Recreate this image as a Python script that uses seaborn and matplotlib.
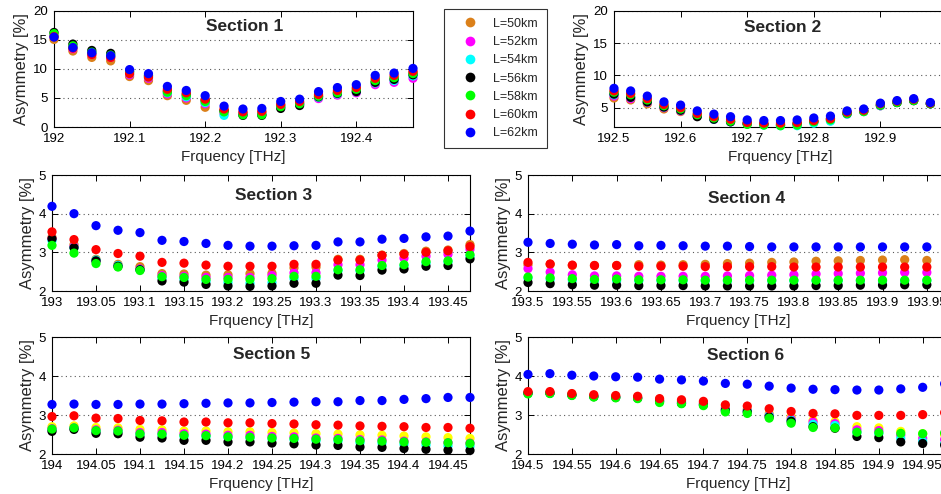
import numpy as np
import pandas as pd
import matplotlib
matplotlib.use("Agg")
import matplotlib.pyplot as plt
from matplotlib.lines import Line2D
import seaborn as sns

# series names and colours (sections 5-6 draw L=50km in yellow)
labels = ["L=50km", "L=52km", "L=54km", "L=56km", "L=58km", "L=60km", "L=62km"]
colors = ["#DB801A", "#FF00FF", "#00FFFF", "#000000", "#00FF00", "#FF0000", "#0000FF"]
colors_late = ["#FFFF00", "#FF00FF", "#00FFFF", "#000000", "#00FF00", "#FF0000", "#0000FF"]

# section start frequencies [THz], 20 channels each, 25 GHz apart
sec_start = [192.0, 192.5, 193.0, 193.5, 194.0, 194.5]
n_ch = 20
step = 0.025

# asymmetry [%], one row per L (50, 52, 54, 56, 58, 60, 62 km)
sec1 = [
    [15.1, 13.1, 12.0, 11.4, 8.7, 8.0, 5.4, 4.6, 3.4, 2.8, 2.4, 2.5, 3.8, 4.2, 5.4, 6.0, 6.3, 7.8, 8.4, 9.4],
    [15.6, 13.5, 12.5, 12.0, 9.0, 8.4, 5.7, 5.0, 4.0, 2.3, 2.3, 2.3, 3.5, 4.0, 4.9, 5.5, 5.9, 7.3, 7.7, 8.4],
    [15.7, 13.7, 12.7, 12.2, 9.2, 8.6, 5.9, 5.2, 4.2, 2.0, 2.2, 2.2, 3.6, 4.0, 5.1, 5.7, 6.1, 7.6, 8.0, 8.8],
    [16.3, 14.3, 13.2, 12.7, 9.6, 8.9, 6.2, 5.6, 4.6, 2.8, 2.0, 2.0, 3.2, 3.7, 5.2, 5.8, 6.1, 7.7, 8.2, 9.0],
    [16.1, 14.0, 12.9, 12.4, 9.5, 8.8, 6.0, 5.4, 4.4, 2.6, 2.1, 2.1, 3.5, 4.0, 5.3, 5.9, 6.5, 8.0, 8.5, 9.2],
    [15.6, 13.6, 12.5, 12.0, 9.2, 8.6, 6.5, 5.9, 4.8, 3.1, 2.6, 2.7, 3.9, 4.4, 5.6, 6.3, 6.8, 8.4, 8.9, 9.6],
    [15.5, 13.7, 12.8, 12.3, 9.9, 9.2, 7.0, 6.3, 5.4, 3.6, 3.1, 3.2, 4.4, 4.8, 6.1, 6.8, 7.3, 8.9, 9.3, 10.1],
]
sec2 = [
    [6.5, 6.2, 5.6, 4.8, 4.4, 3.7, 3.3, 2.9, 2.6, 2.5, 2.4, 2.5, 2.8, 3.1, 4.1, 4.4, 5.3, 5.8, 6.1, 5.6],
    [6.8, 6.4, 5.8, 5.0, 4.5, 3.7, 3.2, 2.8, 2.5, 2.4, 2.3, 2.3, 2.7, 3.0, 4.0, 4.4, 5.3, 5.8, 6.1, 5.6],
    [7.0, 6.6, 5.9, 5.1, 4.6, 3.7, 3.2, 2.8, 2.5, 2.3, 2.2, 2.2, 2.6, 2.9, 4.0, 4.4, 5.3, 5.8, 6.1, 5.6],
    [7.1, 6.6, 5.9, 5.1, 4.6, 3.6, 3.2, 2.8, 2.5, 2.4, 2.3, 2.5, 2.9, 3.3, 4.1, 4.5, 5.4, 5.8, 6.1, 5.6],
    [7.4, 7.0, 6.2, 5.3, 4.8, 3.9, 3.4, 2.9, 2.4, 2.3, 2.2, 2.3, 2.8, 3.1, 4.1, 4.4, 5.4, 5.8, 6.1, 5.6],
    [7.6, 7.2, 6.4, 5.5, 5.0, 4.1, 3.6, 3.2, 2.7, 2.6, 2.6, 2.7, 3.0, 3.3, 4.3, 4.6, 5.6, 6.0, 6.3, 5.7],
    [8.0, 7.6, 6.8, 5.9, 5.4, 4.5, 4.0, 3.6, 3.1, 3.0, 3.0, 3.1, 3.4, 3.7, 4.5, 4.8, 5.7, 6.1, 6.4, 5.8],
]
sec3 = [
    [3.39, 3.20, 2.82, 2.69, 2.63, 2.45, 2.44, 2.41, 2.42, 2.45, 2.46, 2.60, 2.62, 2.82, 2.82, 2.93, 2.97, 3.03, 3.06, 3.20],
    [3.35, 3.15, 2.78, 2.65, 2.57, 2.40, 2.38, 2.35, 2.35, 2.35, 2.40, 2.47, 2.47, 2.68, 2.68, 2.80, 2.85, 2.90, 2.95, 3.08],
    [3.30, 3.12, 2.80, 2.66, 2.55, 2.33, 2.30, 2.25, 2.22, 2.20, 2.22, 2.32, 2.32, 2.52, 2.52, 2.63, 2.65, 2.72, 2.75, 2.90],
    [3.35, 3.12, 2.78, 2.64, 2.55, 2.26, 2.23, 2.17, 2.13, 2.12, 2.13, 2.20, 2.20, 2.41, 2.40, 2.54, 2.57, 2.64, 2.66, 2.83],
    [3.18, 2.98, 2.71, 2.62, 2.53, 2.37, 2.35, 2.30, 2.30, 2.30, 2.32, 2.38, 2.38, 2.55, 2.55, 2.66, 2.68, 2.76, 2.78, 2.94],
    [3.53, 3.33, 3.07, 2.97, 2.90, 2.74, 2.72, 2.67, 2.64, 2.64, 2.64, 2.69, 2.69, 2.80, 2.80, 2.92, 2.95, 3.00, 3.04, 3.15],
    [4.19, 4.00, 3.69, 3.57, 3.51, 3.31, 3.28, 3.23, 3.18, 3.16, 3.16, 3.17, 3.18, 3.27, 3.27, 3.34, 3.36, 3.40, 3.42, 3.55],
]
sec4 = [
    [2.68, 2.69, 2.66, 2.66, 2.66, 2.68, 2.67, 2.68, 2.69, 2.71, 2.72, 2.74, 2.75, 2.77, 2.78, 2.79, 2.80, 2.81, 2.79, 2.80],
    [2.58, 2.49, 2.42, 2.39, 2.39, 2.38, 2.38, 2.38, 2.38, 2.39, 2.40, 2.41, 2.42, 2.44, 2.45, 2.46, 2.47, 2.48, 2.48, 2.48],
    [2.33, 2.30, 2.28, 2.27, 2.27, 2.26, 2.26, 2.26, 2.26, 2.26, 2.26, 2.26, 2.26, 2.26, 2.26, 2.26, 2.26, 2.26, 2.26, 2.26],
    [2.22, 2.19, 2.16, 2.15, 2.15, 2.14, 2.14, 2.14, 2.13, 2.13, 2.13, 2.13, 2.13, 2.14, 2.14, 2.15, 2.15, 2.16, 2.16, 2.16],
    [2.36, 2.34, 2.32, 2.30, 2.31, 2.29, 2.29, 2.29, 2.28, 2.28, 2.28, 2.28, 2.28, 2.28, 2.28, 2.28, 2.28, 2.28, 2.28, 2.28],
    [2.74, 2.70, 2.67, 2.66, 2.66, 2.64, 2.64, 2.64, 2.63, 2.63, 2.63, 2.63, 2.62, 2.62, 2.62, 2.62, 2.62, 2.62, 2.62, 2.62],
    [3.26, 3.23, 3.21, 3.19, 3.20, 3.17, 3.18, 3.17, 3.16, 3.16, 3.15, 3.14, 3.14, 3.14, 3.14, 3.14, 3.14, 3.14, 3.14, 3.14],
]
sec5 = [
    [2.70, 2.72, 2.68, 2.67, 2.63, 2.62, 2.59, 2.59, 2.57, 2.57, 2.55, 2.54, 2.52, 2.51, 2.49, 2.48, 2.46, 2.44, 2.42, 2.40],
    [2.65, 2.67, 2.62, 2.61, 2.55, 2.55, 2.52, 2.51, 2.48, 2.48, 2.45, 2.44, 2.41, 2.40, 2.37, 2.36, 2.33, 2.31, 2.29, 2.28],
    [2.62, 2.66, 2.58, 2.57, 2.50, 2.49, 2.45, 2.45, 2.42, 2.41, 2.38, 2.37, 2.34, 2.33, 2.29, 2.28, 2.25, 2.23, 2.21, 2.20],
    [2.58, 2.63, 2.53, 2.52, 2.43, 2.41, 2.35, 2.35, 2.31, 2.31, 2.28, 2.26, 2.23, 2.22, 2.18, 2.17, 2.14, 2.12, 2.10, 2.09],
    [2.64, 2.67, 2.60, 2.59, 2.52, 2.51, 2.48, 2.47, 2.44, 2.43, 2.41, 2.40, 2.38, 2.37, 2.34, 2.33, 2.31, 2.30, 2.29, 2.27],
    [2.96, 2.98, 2.92, 2.91, 2.86, 2.85, 2.82, 2.82, 2.80, 2.80, 2.78, 2.77, 2.75, 2.74, 2.72, 2.71, 2.70, 2.68, 2.68, 2.66],
    [3.27, 3.28, 3.27, 3.27, 3.28, 3.28, 3.29, 3.30, 3.31, 3.31, 3.32, 3.33, 3.34, 3.34, 3.37, 3.37, 3.40, 3.42, 3.45, 3.45],
]
sec6 = [
    [3.58, 3.58, 3.54, 3.50, 3.48, 3.46, 3.40, 3.36, 3.32, 3.20, 3.15, 3.04, 2.95, 2.86, 2.83, 2.70, 2.67, 2.58, 2.52, 2.50],
    [3.57, 3.57, 3.52, 3.49, 3.47, 3.45, 3.38, 3.34, 3.30, 3.16, 3.12, 3.00, 2.90, 2.82, 2.78, 2.62, 2.60, 2.48, 2.40, 2.37],
    [3.56, 3.56, 3.51, 3.48, 3.46, 3.44, 3.36, 3.32, 3.28, 3.12, 3.10, 2.98, 2.86, 2.76, 2.73, 2.55, 2.52, 2.40, 2.32, 2.26],
    [3.56, 3.56, 3.51, 3.47, 3.45, 3.43, 3.35, 3.30, 3.26, 3.12, 3.08, 2.95, 2.84, 2.70, 2.66, 2.45, 2.42, 2.31, 2.27, 2.23],
    [3.54, 3.55, 3.50, 3.46, 3.44, 3.42, 3.32, 3.29, 3.24, 3.08, 3.04, 2.92, 2.79, 2.68, 2.67, 2.56, 2.55, 2.53, 2.52, 2.54],
    [3.60, 3.60, 3.55, 3.52, 3.50, 3.48, 3.42, 3.39, 3.35, 3.26, 3.23, 3.16, 3.09, 3.04, 3.03, 2.99, 2.99, 2.99, 3.01, 3.06],
    [4.04, 4.06, 4.02, 4.00, 3.98, 3.97, 3.92, 3.90, 3.87, 3.81, 3.79, 3.74, 3.69, 3.66, 3.65, 3.64, 3.64, 3.67, 3.71, 3.80],
]
sections = [sec1, sec2, sec3, sec4, sec5, sec6]

sns.set_style("ticks")
plt.rcParams["font.family"] = ["Liberation Sans", "DejaVu Sans"]

W, H = 941, 494
fig = plt.figure(figsize=(W / 100, H / 100), dpi=100)

# axes boxes in pixels: left, top, right, bottom (right column runs off the page)
boxes = [(54, 11, 413, 127), (614, 11, 947, 127),
         (52, 175, 470, 291), (528, 175, 949, 291),
         (52, 337, 470, 454), (528, 337, 949, 454)]
xspans = [0.475, 0.5, 0.475, 0.475, 0.475, 0.48]
ylims = [(0, 20), (2, 20), (2, 5), (2, 5), (2, 5), (2, 5)]
yticks = [[0, 5, 10, 15, 20], [5, 10, 15, 20], [2, 3, 4, 5], [2, 3, 4, 5], [2, 3, 4, 5], [2, 3, 4, 5]]
xstep = [0.1, 0.1, 0.05, 0.05, 0.05, 0.05]
title_pos = [(0.53, 0.87), (0.506, 0.86), (0.53, 0.82), (0.52, 0.80), (0.525, 0.85), (0.517, 0.84)]

for k, vals in enumerate(sections):
    l, t, r, b = boxes[k]
    ax = fig.add_axes([l / W, 1 - b / H, (r - l) / W, (b - t) / H])
    start = sec_start[k]
    freq = start + step * np.arange(n_ch)
    df = pd.DataFrame({
        "freq": np.tile(freq, len(labels)),
        "asym": np.concatenate(vals),
        "L": np.repeat(labels, n_ch),
    })
    pal = colors if k < 4 else colors_late
    sns.scatterplot(data=df, x="freq", y="asym", hue="L", hue_order=labels,
                    palette=dict(zip(labels, pal)), s=44, linewidth=0,
                    legend=False, ax=ax, clip_on=False, zorder=3)
    ax.set_xlim(start, start + xspans[k])
    ax.set_ylim(*ylims[k])
    ax.set_yticks(yticks[k])
    xt = np.round(np.arange(start, start + 0.45 + 1e-9, xstep[k]), 3)
    ax.set_xticks(xt)
    ax.set_xticklabels([f"{v:g}" for v in xt])
    ax.yaxis.grid(True, linestyle=(0, (1, 3)), color="0.35", linewidth=0.8)
    ax.xaxis.grid(False)
    ax.tick_params(direction="in", top=True, right=True, length=4, width=0.7,
                   labelsize=9.5, pad=4.5, colors="black")
    for sp in ax.spines.values():
        sp.set_linewidth(0.8)
        sp.set_color("black")
    ax.set_xlabel("Frquency [THz]", fontsize=11, labelpad=3.5)
    ax.set_ylabel("Asymmetry [%]", fontsize=12, labelpad=2.5)
    tx, ty = title_pos[k]
    ax.text(tx, ty, f"Section {k + 1}", transform=ax.transAxes, ha="center",
            va="center", fontsize=12.5, fontweight="bold")

handles = [Line2D([], [], marker="o", linestyle="none", markersize=7,
                  markerfacecolor=c, markeredgewidth=0) for c in colors]
leg = fig.legend(handles, labels, loc="upper left", bbox_to_anchor=(444 / W, 1 - 9 / H),
                 frameon=True, fancybox=False, edgecolor="black", fontsize=9,
                 labelspacing=0.5, handletextpad=0.55, borderpad=0.7,
                 handlelength=2.7, borderaxespad=0)
leg.get_frame().set_linewidth(0.8)

fig.savefig("out.png", dpi=100)
